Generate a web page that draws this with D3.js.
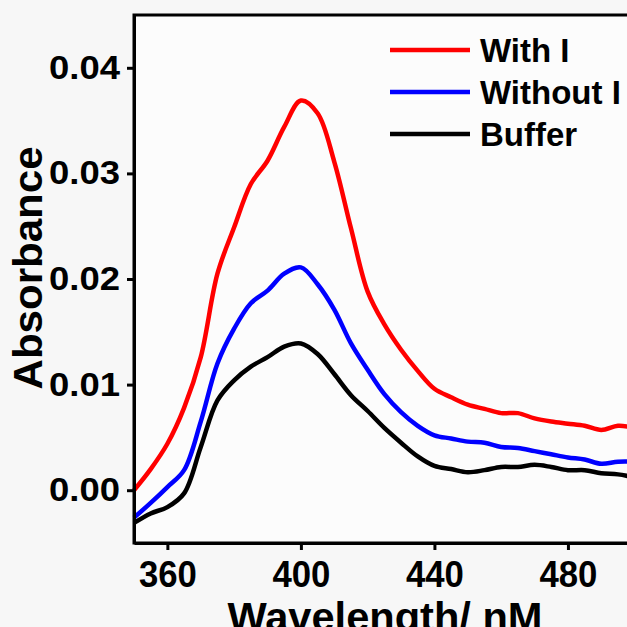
<!DOCTYPE html>
<html>
<head>
<meta charset="utf-8">
<script src="https://cdn.jsdelivr.net/npm/d3@7"></script>
<style>
  html, body { margin: 0; padding: 0; background: #f7f7f7; }
  svg { display: block; font-family: "Liberation Sans", Arial, sans-serif; font-weight: bold; }
</style>
</head>
<body>
<svg id="chart" width="627" height="627"></svg>
<script>
// wavelength grid, nm
var wavelengths = [350, 355, 360, 365, 370, 375, 380, 385, 390, 395, 400, 405, 410, 415, 420,
                   425, 430, 435, 440, 445, 450, 455, 460, 465, 470, 475, 480, 485, 490, 495, 500];

var withI = [0.0000, 0.0020, 0.0044, 0.0078, 0.0126, 0.0205, 0.0249, 0.0290, 0.0312, 0.0344, 0.0369,
             0.0357, 0.0311, 0.0248, 0.0188, 0.0157, 0.0133, 0.0113, 0.0096, 0.0088, 0.0081,
             0.0077, 0.0073, 0.0073, 0.0068, 0.0065, 0.0063, 0.0061, 0.0057, 0.0061, 0.0059];

var withoutI = [-0.0026, -0.0012, 0.0003, 0.0019, 0.0065, 0.0120, 0.0153, 0.0177, 0.0189, 0.0205, 0.0211,
                0.0195, 0.0171, 0.0139, 0.0114, 0.0091, 0.0074, 0.0061, 0.0052, 0.0049, 0.0046,
                0.0045, 0.0041, 0.0040, 0.0037, 0.0034, 0.0031, 0.0029, 0.0025, 0.0027, 0.0027];

var buffer = [-0.0031, -0.0022, -0.0016, -0.0003, 0.0041, 0.0085, 0.0104, 0.0117, 0.0126, 0.0136, 0.0139,
              0.0129, 0.0110, 0.0090, 0.0075, 0.0059, 0.0045, 0.0032, 0.0023, 0.0020, 0.0017,
              0.0019, 0.0022, 0.0022, 0.0024, 0.0022, 0.0019, 0.0019, 0.0016, 0.0015, 0.0012];

var seriesNames  = ["With I", "Without I", "Buffer"];
var seriesColors = ["#ff0000", "#0000ff", "#000000"];
var xTicks = [360, 400, 440, 480];
var yTicks = [0.00, 0.01, 0.02, 0.03, 0.04];

var series = [withI, withoutI, buffer].map(function(vals, i) {
  return { name: seriesNames[i], color: seriesColors[i],
           points: vals.map(function(v, j) { return [wavelengths[j], v]; }) };
});

var svg = d3.select("#chart");
var plotLeft = 134, plotTop = 15, plotRight = 634.7, plotBottom = 543;

var x = d3.scaleLinear().domain([350, 500]).range([plotLeft, plotRight]);
var y = d3.scaleLinear().domain([-0.005, 0.045]).range([plotBottom, plotTop]);

// plot area
svg.append("rect")
  .attr("x", plotLeft).attr("y", plotTop)
  .attr("width", plotRight - plotLeft).attr("height", plotBottom - plotTop)
  .attr("fill", "#fcfcfc");

var line = d3.line()
  .x(function(d) { return x(d[0]); })
  .y(function(d) { return y(d[1]); })
  .curve(d3.curveCatmullRom);

svg.append("g").selectAll("path").data(series.slice().reverse()).enter()
  .append("path")
  .attr("d", function(d) { return line(d.points); })
  .attr("fill", "none")
  .attr("stroke", function(d) { return d.color; })
  .attr("stroke-width", 4.5)
  .attr("stroke-linejoin", "round");

// frame
svg.append("rect")
  .attr("x", plotLeft).attr("y", plotTop)
  .attr("width", plotRight - plotLeft).attr("height", plotBottom - plotTop)
  .attr("fill", "none").attr("stroke", "#000").attr("stroke-width", 3);

var yAxis = svg.append("g")
  .attr("transform", "translate(" + plotLeft + ",0)")
  .call(d3.axisLeft(y).tickValues(yTicks).tickFormat(d3.format(".2f"))
        .tickSize(7).tickSizeOuter(0).tickPadding(7));
yAxis.selectAll("text")
  .attr("font-size", 32.5).attr("font-family", "Liberation Sans, Arial, sans-serif")
  .attr("font-weight", "bold").attr("fill", "#000")
  .attr("textLength", 71).attr("lengthAdjust", "spacingAndGlyphs");

var xAxis = svg.append("g")
  .attr("transform", "translate(0," + plotBottom + ")")
  .call(d3.axisBottom(x).tickValues(xTicks).tickFormat(d3.format("d"))
        .tickSize(7).tickSizeOuter(0).tickPadding(10));
xAxis.selectAll("text")
  .attr("font-size", 37.5).attr("font-family", "Liberation Sans, Arial, sans-serif")
  .attr("font-weight", "bold").attr("fill", "#000")
  .attr("textLength", 58).attr("lengthAdjust", "spacingAndGlyphs");

svg.selectAll(".domain, .tick line").attr("stroke", "#000").attr("stroke-width", 3);

// axis titles
svg.append("text")
  .attr("x", 385).attr("y", 631)
  .attr("text-anchor", "middle")
  .attr("font-size", 40)
  .attr("textLength", 315).attr("lengthAdjust", "spacingAndGlyphs")
  .text("Wavelength/ nM");

svg.append("text")
  .attr("transform", "translate(42,268) rotate(-90)")
  .attr("text-anchor", "middle")
  .attr("font-size", 41)
  .attr("textLength", 243).attr("lengthAdjust", "spacingAndGlyphs")
  .text("Absorbance");

// legend
var legend = svg.append("g").selectAll("g").data(series).enter()
  .append("g")
  .attr("transform", function(d, i) { return "translate(390," + (50 + i * 42) + ")"; });
legend.append("line")
  .attr("x1", 0).attr("x2", 80)
  .attr("stroke", function(d) { return d.color; })
  .attr("stroke-width", 4.5);
legend.append("text")
  .attr("x", 90).attr("y", 12)
  .attr("font-size", 33)
  .text(function(d) { return d.name; });
</script>
</body>
</html>
